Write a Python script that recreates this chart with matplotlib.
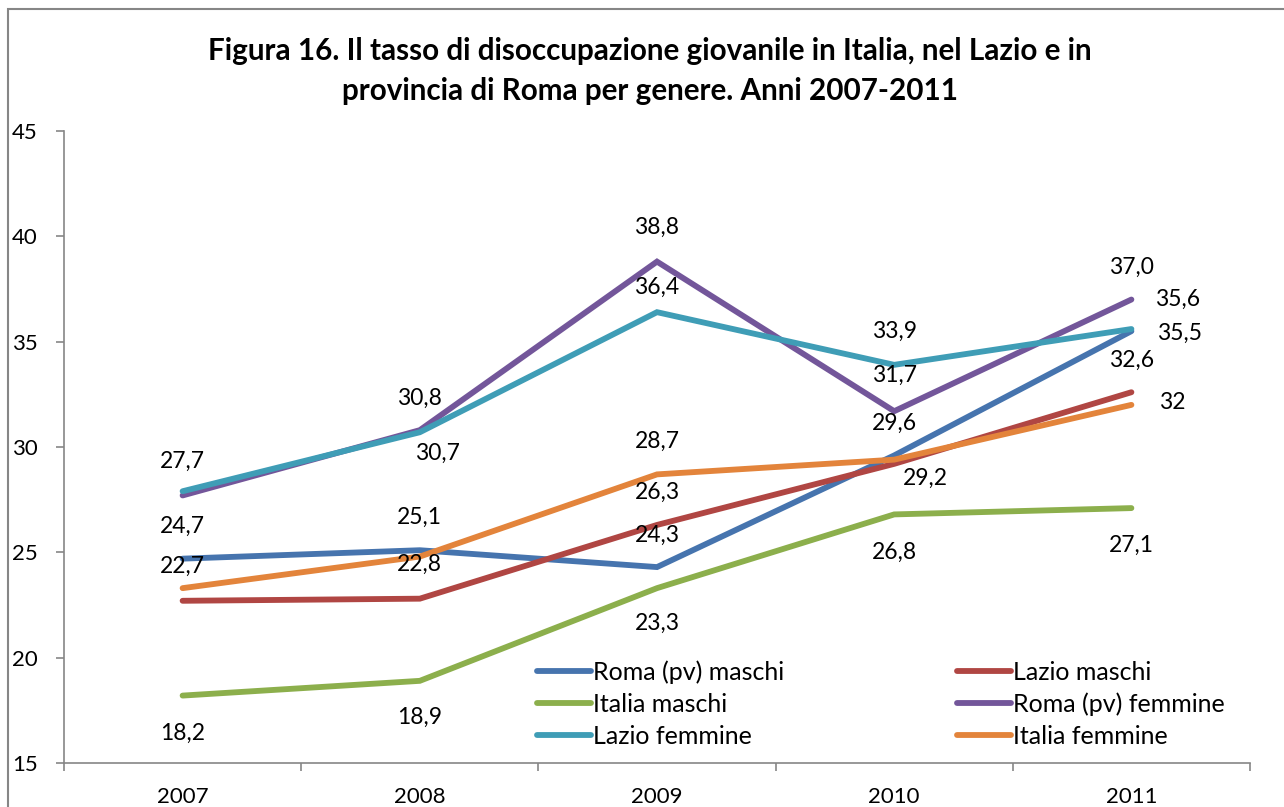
import matplotlib
matplotlib.use("Agg")
import matplotlib.pyplot as plt
from matplotlib.patches import Rectangle

plt.rcParams['font.family'] = ['Lato', 'DejaVu Sans']

anni = ['2007', '2008', '2009', '2010', '2011']

roma_maschi = [24.7, 25.1, 24.3, 29.6, 35.5]
lazio_maschi = [22.7, 22.8, 26.3, 29.2, 32.6]
italia_maschi = [18.2, 18.9, 23.3, 26.8, 27.1]
roma_femmine = [27.7, 30.8, 38.8, 31.7, 37.0]
lazio_femmine = [27.9, 30.7, 36.4, 33.9, 35.6]
italia_femmine = [23.3, 24.8, 28.7, 29.4, 32.0]

nomi = ['Roma (pv) maschi', 'Lazio maschi', 'Italia maschi',
        'Roma (pv) femmine', 'Lazio femmine', 'Italia femmine']
serie = [roma_maschi, lazio_maschi, italia_maschi,
         roma_femmine, lazio_femmine, italia_femmine]
colori = ['#4674AE', '#B04643', '#8CAF4C', '#73569A', '#3F9DB6', '#E3843B']

# etichette: (serie, anno, dx, dy) in pixel, dy verso l'alto
etichette = [
    (0, 0, 0, 32), (0, 1, 0, 33), (0, 2, 0, 32), (0, 3, 0, 32), (0, 4, 48, -2),
    (1, 0, 0, 34), (1, 1, 0, 34), (1, 2, 0, 33), (1, 3, 31, -14), (1, 4, 0, 32),
    (2, 0, 0, -38), (2, 1, 0, -37), (2, 2, 0, -35), (2, 3, 0, -38), (2, 4, 0, -37),
    (3, 0, 0, 34), (3, 1, 0, 32), (3, 2, 0, 34), (3, 3, 0, 36), (3, 4, 0, 32),
    (4, 1, 18, -21), (4, 2, 0, 25), (4, 3, 0, 33), (4, 4, 46, 30),
    (5, 2, 0, 33), (5, 4, 41, 2),
]


def fmt(v):
    # l'ultimo valore femminile Italia compare come intero
    if v == 32.0:
        return '32'
    return f'{v:.1f}'.replace('.', ',')


fig = plt.figure(figsize=(12.84, 8.07), dpi=100)
ax = fig.add_axes([64 / 1284, 44 / 807, (1250 - 64) / 1284, (763 - 131) / 807])

x = list(range(len(anni)))
linee = []
for valori, nome, col in zip(serie, nomi, colori):
    l, = ax.plot(x, valori, color=col, lw=4.2, solid_capstyle='round',
                 solid_joinstyle='miter', label=nome)
    linee.append(l)

px = 0.72
for s, i, dx, dy in etichette:
    ax.annotate(fmt(serie[s][i]), (x[i], serie[s][i]), xytext=(dx * px, dy * px),
                textcoords='offset points', ha='center', va='center',
                fontsize=16.5, color='black')

ax.set_xlim(-0.5, len(anni) - 0.5)
ax.set_ylim(15, 45)
ax.set_yticks(range(15, 46, 5))
ax.set_xticks(x)
ax.set_xticklabels(anni)
ax.set_xticks([i - 0.5 for i in range(len(anni) + 1)], minor=True)
ax.tick_params(axis='x', which='major', length=0, pad=17, labelsize=16)
ax.tick_params(axis='x', which='minor', length=6, width=1.2, color='#868686')
ax.tick_params(axis='y', length=6, width=1.2, color='#868686', pad=13, labelsize=16)

for lato in ['top', 'right']:
    ax.spines[lato].set_visible(False)
for lato in ['left', 'bottom']:
    ax.spines[lato].set_color('#868686')
    ax.spines[lato].set_linewidth(1.2)

# legenda su due colonne, riempita per righe
ordine = [0, 2, 4, 1, 3, 5]
fig.legend([linee[k] for k in ordine], [nomi[k] for k in ordine], ncol=2,
           loc='upper left', bbox_to_anchor=(537 / 1284, 1 - 660 / 807),
           frameon=False, fontsize=18, handlelength=2.16, handletextpad=0.08,
           borderpad=0, borderaxespad=0, labelspacing=0.36, columnspacing=6.9)

fig.text(650 / 1284, 1 - 71 / 807,
         'Figura 16. Il tasso di disoccupazione giovanile in Italia, nel Lazio e in\n'
         'provincia di Roma per genere. Anni 2007-2011',
         ha='center', va='center', fontsize=21.3, fontweight='bold', linespacing=1.48)

# cornice esterna del grafico
fig.patches.append(Rectangle((8 / 1284, -0.2), 1.5, 1 - 9 / 807 + 0.2,
                             transform=fig.transFigure, fill=False,
                             edgecolor='#868686', lw=1.5))

fig.savefig('out.png', dpi=100)
